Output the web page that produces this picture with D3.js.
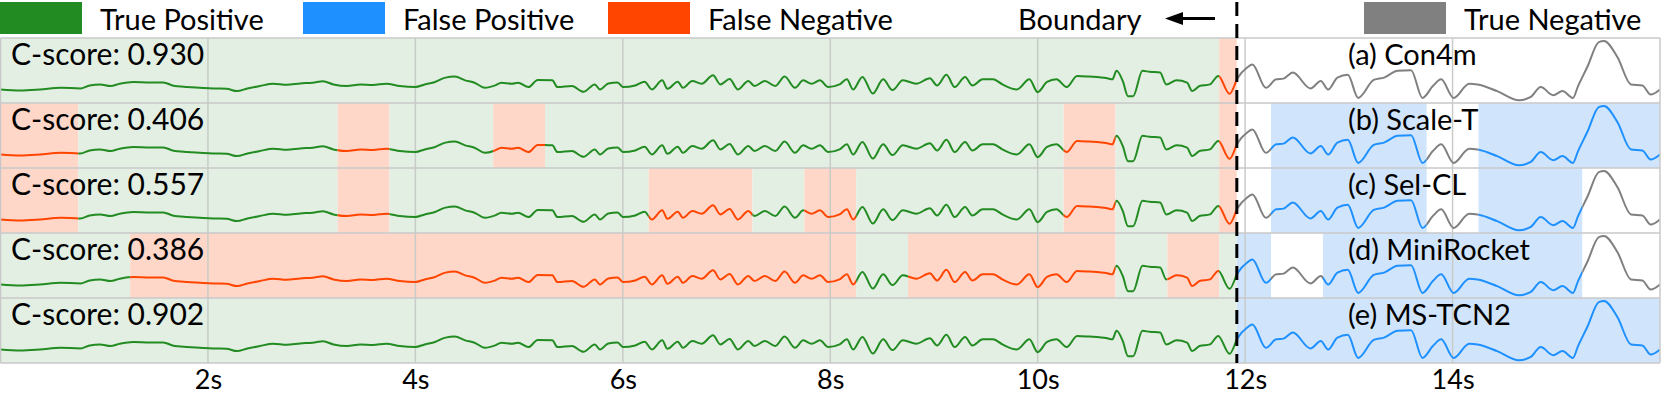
<!DOCTYPE html>
<html>
<head>
<meta charset="utf-8">
<script src="https://cdnjs.cloudflare.com/ajax/libs/d3/7.8.5/d3.min.js"></script>
<style>
  body, html { margin:0; padding:0; background:#fff; }
  svg text { font-family: Lato, "Noto Sans", sans-serif; fill:#000; }
</style>
</head>
<body>
<svg id="chart" width="1661" height="394"></svg>
<script>
// signal (seconds, arbitrary amplitude units)
var times = [0.00,0.19,0.38,0.58,0.77,0.86,0.96,1.06,1.15,1.28,1.44,1.57,1.66,1.80,1.92,2.05,2.18,2.28,2.38,2.50,
  2.63,2.76,2.89,3.01,3.11,3.21,3.34,3.47,3.59,3.72,3.85,4.00,4.09,4.19,4.29,4.38,4.48,4.57,4.67,4.77,
  4.83,4.93,4.99,5.09,5.18,5.32,5.37,5.51,5.62,5.73,5.78,5.86,5.95,6.00,6.12,6.21,6.28,6.38,6.43,6.53,
  6.58,6.67,6.76,6.87,6.94,7.03,7.11,7.21,7.27,7.37,7.47,7.56,7.66,7.74,7.82,7.90,7.98,8.09,8.16,8.22,
  8.31,8.41,8.51,8.60,8.70,8.83,8.96,9.03,9.12,9.20,9.30,9.37,9.47,9.57,9.66,9.80,9.92,10.00,10.09,10.18,
  10.28,10.38,10.50,10.67,10.72,10.76,10.82,10.87,10.92,11.01,11.08,11.18,11.24,11.34,11.44,11.49,11.56,11.66,11.74,11.85,
  11.93,12.02,12.07,12.20,12.30,12.37,12.46,12.63,12.73,12.80,12.89,12.99,13.09,13.24,13.34,13.47,13.60,13.71,13.81,13.89,
  14.01,14.16,14.24,14.43,14.64,14.75,14.85,14.97,15.06,15.16,15.21,15.30,15.41,15.46,15.59,15.72,15.83,15.91,16.00];
var signal = [13.3,12.3,13.3,15,14.3,17.3,18.3,16.7,19,20.7,20.3,20.3,17.3,15.7,15,14.3,14,11.7,14.3,16.7,
  19,18,19.3,20,21.3,18.3,16.7,18.3,17.7,19,16.7,15.7,18.3,20.7,25,26,22.3,20,15,17.3,
  20,19,20,15.7,22.7,22.3,15.7,16.7,11,18.3,13.3,19.3,20.3,15.7,17.3,21,13.3,22.3,14,21,
  15,21.7,19,27.3,18.3,23.7,13.3,21.7,16.7,21.7,16.7,26,15,22.3,19,22.3,15.7,18.3,23.3,13.3,
  25.7,9.3,23.3,12.7,22.3,19,24.3,17.3,27.7,15.7,25.7,17.3,23.3,23.3,18.3,13.3,23.3,10.7,20.7,23.3,
  15.7,26.7,26,24.3,23.3,31.7,21.7,6.7,6.7,31.7,30.7,30,18.3,22.3,20,11.7,16.7,18.3,26.7,9,
  25,35,38,15,23.3,24,30,14.3,21.7,13.3,25,27.7,5,22.7,25,31.7,32.3,5,16.7,23.3,
  5,19,18.3,11.7,2.7,5.7,15.7,7.7,11.7,5,16.7,35.7,60,61,45,18.3,17.3,8.3,13.3];

var models = ["(a) Con4m", "(b) Scale-T", "(c) Sel-CL", "(d) MiniRocket", "(e) MS-TCN2"];
var cScores = ["0.930", "0.406", "0.557", "0.386", "0.902"];

// [start s, end s, outcome]
var segCon4m = [[0,11.75,"TP"],[11.75,11.92,"FN"],[11.92,16,"TN"]];
var segScaleT = [[0,0.75,"FN"],[0.75,3.25,"TP"],[3.25,3.75,"FN"],[3.75,4.75,"TP"],[4.75,5.25,"FN"],[5.25,10.25,"TP"],
  [10.25,10.75,"FN"],[10.75,11.75,"TP"],[11.75,11.92,"FN"],[11.92,12.25,"TN"],[12.25,13.75,"FP"],[13.75,14.25,"TN"],[14.25,16,"FP"]];
var segSelCL = [[0,0.75,"FN"],[0.75,3.25,"TP"],[3.25,3.75,"FN"],[3.75,6.25,"TP"],[6.25,7.25,"FN"],[7.25,7.75,"TP"],
  [7.75,8.25,"FN"],[8.25,10.25,"TP"],[10.25,10.75,"FN"],[10.75,11.75,"TP"],[11.75,11.92,"FN"],[11.92,12.25,"TN"],
  [12.25,13.75,"FP"],[13.75,14.25,"TN"],[14.25,15.25,"FP"],[15.25,16,"TN"]];
var segMiniRocket = [[0,1.25,"TP"],[1.25,8.25,"FN"],[8.25,8.75,"TP"],[8.75,10.75,"FN"],[10.75,11.25,"TP"],[11.25,11.75,"FN"],
  [11.75,11.92,"TP"],[11.92,12.25,"FP"],[12.25,12.75,"TN"],[12.75,15.25,"FP"],[15.25,16,"TN"]];
var segMSTCN2 = [[0,11.92,"TP"],[11.92,16,"FP"]];
var segments = [segCon4m, segScaleT, segSelCL, segMiniRocket, segMSTCN2];

var tickValues = [2,4,6,8,10,12,14];
var tickLabels = ["2s","4s","6s","8s","10s","12s","14s"];
var boundaryTime = 11.92;
var legendLabels = ["True Positive","False Positive","False Negative","True Negative"];
var legendKeys = ["TP","FP","FN","TN"];

var lineColor = {TP:"#228b22", FP:"#1e90ff", FN:"#ff4500", TN:"#808080"};
var shadeColor = {TP:"#e3efe2", FP:"#d0e5fb", FN:"#ffd7c9", TN:"none"};

var svg = d3.select("#chart");
var top0 = 38, panelH = 65, left = 0.5, right = 1660;
var x = d3.scaleLinear().domain([0,16]).range([left, right]);
var pts = times.map(function(t,i){ return [t, signal[i]]; });
var defs = svg.append("defs");

var gPanels = svg.append("g");
models.forEach(function(name, p){
  var y0 = top0 + p*panelH;
  var y = d3.scaleLinear().domain([0,64]).range([y0+panelH, y0]);
  var g = gPanels.append("g");

  g.selectAll("rect.shade").data(segments[p].filter(function(s){return s[2] !== "TN";}))
    .enter().append("rect")
    .attr("x", function(s){return x(s[0]);})
    .attr("width", function(s){return x(s[1]) - x(s[0]);})
    .attr("y", y0).attr("height", panelH)
    .attr("fill", function(s){return shadeColor[s[2]];});

  g.selectAll("line.grid").data(tickValues).enter().append("line")
    .attr("x1", x).attr("x2", x).attr("y1", y0).attr("y2", y0+panelH)
    .attr("stroke", "#c8ccc8").attr("stroke-width", 1.5);

  var line = d3.line().curve(d3.curveMonotoneX)
    .x(function(d){return x(d[0]);}).y(function(d){return y(d[1]);});
  segments[p].forEach(function(s, k){
    var id = "clip" + p + "_" + k;
    defs.append("clipPath").attr("id", id).append("rect")
      .attr("x", x(s[0])).attr("width", x(s[1]) - x(s[0]))
      .attr("y", y0 - 5).attr("height", panelH + 10);
    g.append("path").datum(pts)
      .attr("d", line).attr("fill", "none")
      .attr("stroke", lineColor[s[2]]).attr("stroke-width", 2)
      .attr("stroke-linejoin", "round")
      .attr("clip-path", "url(#" + id + ")");
  });

  g.append("text").attr("x", 11).attr("y", y0 + 26.5)
    .style("font-size", "30px").text("C-score: " + cScores[p]);
  g.append("text").attr("x", 1348).attr("y", y0 + 26.5)
    .style("font-size", "29px").text(name);
});

// panel frames
var bounds = d3.range(models.length + 1).map(function(i){ return top0 + i*panelH; });
svg.append("g").selectAll("line").data(bounds).enter().append("line")
  .attr("x1", left).attr("x2", right).attr("y1", function(d){return d;}).attr("y2", function(d){return d;})
  .attr("stroke", "#c8c8c8").attr("stroke-width", 1.5);
svg.append("g").selectAll("line").data([left, right]).enter().append("line")
  .attr("x1", function(d){return d;}).attr("x2", function(d){return d;})
  .attr("y1", top0).attr("y2", bounds[bounds.length-1])
  .attr("stroke", "#c8c8c8").attr("stroke-width", 1.5);

// boundary
svg.append("line")
  .attr("x1", x(boundaryTime)).attr("x2", x(boundaryTime))
  .attr("y1", 2).attr("y2", bounds[bounds.length-1])
  .attr("stroke", "#000").attr("stroke-width", 3).attr("stroke-dasharray", "14,8");

// axis
var axis = d3.axisBottom(x).tickValues(tickValues)
  .tickFormat(function(d,i){return tickLabels[i];}).tickSize(0).tickPadding(7);
var gAxis = svg.append("g").attr("transform", "translate(0," + bounds[bounds.length-1] + ")").call(axis);
gAxis.select(".domain").remove();
gAxis.selectAll("text").style("font-size", "27px").style("font-family", "Lato, 'Noto Sans', sans-serif").attr("fill", "#000");

// legend
var legX = [0, 303, 608, 1364];
var legend = svg.append("g");
legendLabels.forEach(function(lab, i){
  legend.append("rect").attr("x", legX[i]).attr("y", 2).attr("width", 82).attr("height", 32)
    .attr("fill", lineColor[legendKeys[i]]);
  legend.append("text").attr("x", legX[i] + 100).attr("y", 30).style("font-size", "29px").text(lab);
});
legend.append("text").attr("x", 1018).attr("y", 30).style("font-size", "29px").text("Boundary");
legend.append("line").attr("x1", 1180).attr("x2", 1215).attr("y1", 18.5).attr("y2", 18.5)
  .attr("stroke", "#000").attr("stroke-width", 3);
legend.append("path").attr("d", "M1165,18.5 L1183,12 L1183,25 Z").attr("fill", "#000");
</script>
</body>
</html>
